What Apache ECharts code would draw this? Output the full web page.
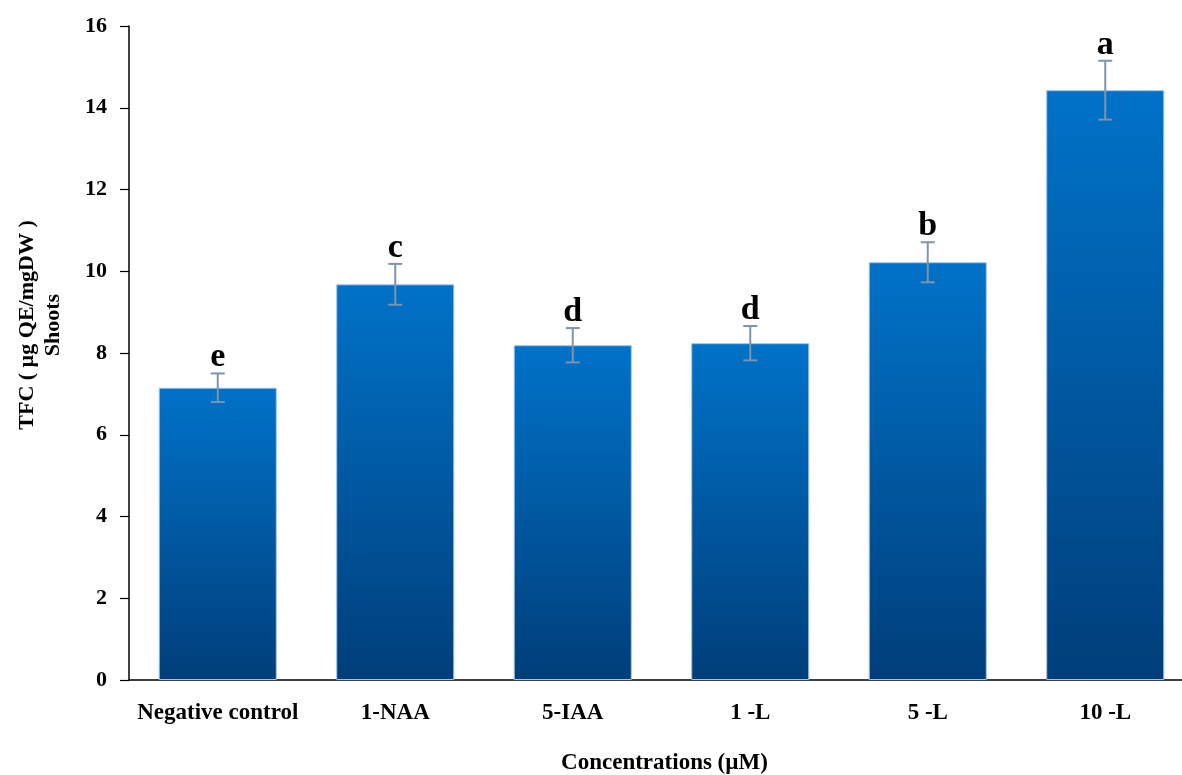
<!DOCTYPE html>
<html>
<head>
<meta charset="utf-8">
<script src="https://cdn.jsdelivr.net/npm/echarts@6/dist/echarts.min.js"></script>
<style>
  html, body { margin: 0; padding: 0; background: #fff; overflow: hidden; }
  #chart { width: 1182px; height: 775px; }
</style>
</head>
<body>
<div id="chart"></div>
<script>
// Total flavonoid content of shoots by treatment
const categories = ['Negative control', '1-NAA', '5-IAA', '1 -L', '5 -L', '10 -L'];
const tfcMeans = [7.15, 9.68, 8.19, 8.24, 10.22, 14.43];
const tfcErrors = [0.35, 0.50, 0.42, 0.42, 0.49, 0.72];
const groupLetters = ['e', 'c', 'd', 'd', 'b', 'a'];
const yTicks = [0, 2, 4, 6, 8, 10, 12, 14, 16];

const serif = '"Liberation Serif", "DejaVu Serif", "Times New Roman", serif';

const chart = echarts.init(document.getElementById('chart'));

const errorData = categories.map((c, i) => [i, tfcMeans[i], tfcErrors[i]]);

chart.setOption({
  animation: false,
  backgroundColor: '#ffffff',
  grid: {
    left: 129, right: -12, top: 26, bottom: 95,
    containLabel: false,
    outerBoundsMode: 'none'
  },
  xAxis: {
    type: 'category',
    data: categories,
    axisLine: { show: true, lineStyle: { color: '#000', width: 1.5 } },
    axisTick: { show: false },
    axisLabel: {
      interval: 0,
      hideOverlap: false,
      margin: 22,
      fontFamily: serif,
      fontWeight: 'bold',
      fontSize: 23,
      color: '#000'
    },
    name: 'Concentrations (µM)',
    nameLocation: 'middle',
    nameGap: 72,
    nameTextStyle: {
      fontFamily: serif, fontWeight: 'bold', fontSize: 23, color: '#000',
      verticalAlign: 'top', padding: [0, 0, 0, 6]
    }
  },
  yAxis: {
    type: 'value',
    min: yTicks[0],
    max: yTicks[yTicks.length - 1],
    interval: 2,
    splitLine: { show: false },
    axisLine: { show: true, lineStyle: { color: '#000', width: 1.5 } },
    axisTick: { show: true, inside: false, length: 9, lineStyle: { color: '#000', width: 1.2 } },
    axisLabel: {
      margin: 22,
      fontFamily: serif,
      fontWeight: 'bold',
      fontSize: 22,
      color: '#000'
    }
  },
  graphic: [{
    type: 'text',
    x: 40,
    y: 325,
    rotation: Math.PI / 2,
    style: {
      text: 'TFC ( µg QE/mgDW )\nShoots',
      fontFamily: serif,
      fontWeight: 'bold',
      fontSize: 22,
      lineHeight: 26,
      fill: '#000',
      align: 'center',
      verticalAlign: 'middle'
    }
  }],
  series: [
    {
      type: 'bar',
      data: tfcMeans,
      barWidth: '66.5%',
      itemStyle: {
        color: new echarts.graphic.LinearGradient(0, 0, 0, 1, [
          { offset: 0, color: '#0072c8' },
          { offset: 1, color: '#003e7a' }
        ]),
        borderColor: '#9fc4ea',
        borderWidth: 1
      },
      z: 2
    },
    {
      type: 'custom',
      data: errorData,
      z: 5,
      renderItem: function (params, api) {
        const i = api.value(0);
        const m = api.value(1);
        const e = api.value(2);
        const letter = groupLetters[params.dataIndex];
        const top = api.coord([i, m + e]);
        const bot = api.coord([i, m - e]);
        const cap = 7;
        const st = { stroke: '#7f93ab', lineWidth: 2 };
        return {
          type: 'group',
          children: [
            { type: 'line', shape: { x1: top[0], y1: top[1], x2: bot[0], y2: bot[1] }, style: st },
            { type: 'line', shape: { x1: top[0] - cap, y1: top[1], x2: top[0] + cap, y2: top[1] }, style: st },
            { type: 'line', shape: { x1: bot[0] - cap, y1: bot[1], x2: bot[0] + cap, y2: bot[1] }, style: st },
            {
              type: 'text',
              x: top[0],
              y: top[1] + 1,
              style: {
                text: letter,
                fontFamily: serif,
                fontWeight: 'bold',
                fontSize: 34,
                fill: '#000',
                align: 'center',
                verticalAlign: 'bottom'
              }
            }
          ]
        };
      }
    }
  ]
});
</script>
</body>
</html>
